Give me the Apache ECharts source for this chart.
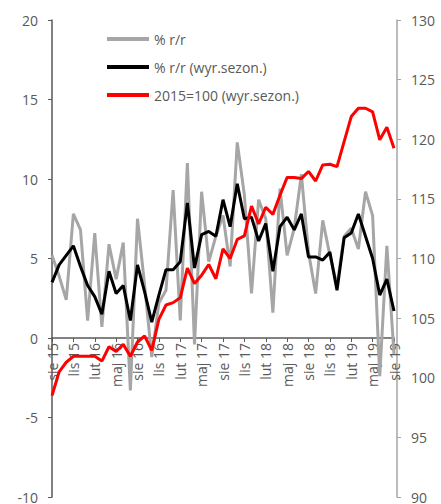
<!DOCTYPE html>
<html>
<head>
    <meta charset="utf-8">
    <title>ECharts</title>
    <script src="https://cdn.jsdelivr.net/npm/echarts@6/dist/echarts.min.js"></script>
    <style>
        html, body { margin: 0; padding: 0; background: #fff; }
    </style>
</head>
<body>
<div id="main" style="width: 441px;height:504px;"></div>
<script type="text/javascript">
    // miesiące od sie 15 do sie 19
    var months = [
        'sie 15','wrz 15','paź 15','lis 15','gru 15','sty 16','lut 16','mar 16','kwi 16','maj 16','cze 16','lip 16',
        'sie 16','wrz 16','paź 16','lis 16','gru 16','sty 17','lut 17','mar 17','kwi 17','maj 17','cze 17','lip 17',
        'sie 17','wrz 17','paź 17','lis 17','gru 17','sty 18','lut 18','mar 18','kwi 18','maj 18','cze 18','lip 18',
        'sie 18','wrz 18','paź 18','lis 18','gru 18','sty 19','lut 19','mar 19','kwi 19','maj 19','cze 19','lip 19',
        'sie 19'
    ];
    // % r/r
    var yoy = [5.2, 3.9, 2.4, 7.8, 6.8, 1.1, 6.6, 0.7, 5.9, 3.7, 6.0, -3.3, 7.5, 3.3, -1.2, 2.2, 3.0, 9.3, 1.1, 11.0,
        -0.4, 9.2, 4.8, 6.4, 7.7, 4.5, 12.3, 9.0, 2.8, 8.7, 7.5, 1.6, 9.4, 5.2, 6.9, 10.3, 5.4, 2.8, 7.4, 5.2,
        3.3, 6.4, 6.9, 5.6, 9.2, 7.7, -2.4, 5.8, -1.0];
    // % r/r (wyr.sezon.)
    var yoySa = [3.5, 4.6, 5.2, 5.8, 4.5, 3.3, 2.6, 1.5, 4.2, 2.8, 3.3, 1.1, 4.6, 2.9, 1.0, 2.7, 4.3, 4.3, 4.8, 8.5,
        4.4, 6.5, 6.7, 6.4, 8.7, 7.0, 9.7, 7.5, 7.6, 6.1, 7.2, 4.2, 7.0, 7.6, 6.8, 7.8, 5.1, 5.1, 4.9, 5.4,
        3.0, 6.3, 6.6, 7.8, 6.4, 5.0, 2.7, 3.7, 1.7];
    // 2015=100 (wyr.sezon.)
    var index2015 = [98.5, 100.5, 101.3, 101.8, 101.8, 101.8, 101.8, 101.4, 102.6, 102.2, 102.8, 101.8, 103.0, 103.5,
        102.3, 104.9, 106.1, 106.3, 106.7, 109.2, 107.9, 108.6, 109.5, 108.3, 110.8, 110.0, 111.6, 111.9,
        114.4, 112.9, 114.3, 113.7, 115.3, 116.8, 116.8, 116.7, 117.3, 116.5, 117.85, 117.9, 117.7, 119.8,
        121.9, 122.6, 122.6, 122.3, 119.95, 121.0, 119.25];

    var font = '"Open Sans", sans-serif';
    var txt = '#595959';

    // siatka: góra 20, dół 7 -> wysokość 477 px na 30 jednostek, zero lewej osi 20 jednostek od góry
    var gridTop = 20, gridBottom = 7, plotH = 504 - gridTop - gridBottom;
    var zeroShift = -(plotH * 10 / 30);

    var myChart = echarts.init(document.getElementById('main'), null, {renderer: 'svg'});
    var option = {
        animation: false,
        textStyle: { fontFamily: font },
        legend: {
            orient: 'vertical',
            left: 107,
            top: 32,
            padding: 0,
            icon: 'rect',
            itemWidth: 42,
            itemHeight: 4,
            itemGap: 14,
            textStyle: { fontFamily: font, fontSize: 14, color: txt },
            data: ['% r/r', '% r/r (wyr.sezon.)', '2015=100 (wyr.sezon.)']
        },
        grid: {
            left: 52,
            right: 47,
            top: gridTop,
            bottom: gridBottom,
            containLabel: false,
            outerBoundsMode: 'none'
        },
        xAxis: {
            type: 'category',
            boundaryGap: false,
            data: months,
            position: 'bottom',
            offset: zeroShift,
            axisLine: { onZero: false, lineStyle: { color: '#595959', width: 1.5 } },
            axisTick: { interval: 2, length: 4, lineStyle: { color: '#595959' } },
            axisLabel: {
                interval: 2,
                rotate: 90,
                margin: 5,
                fontFamily: font,
                fontSize: 14,
                color: txt
            },
            splitLine: { show: false }
        },
        yAxis: [{
            type: 'value',
            min: -10,
            max: 20,
            interval: 5,
            axisLine: { show: true, lineStyle: { color: '#595959', width: 1.5 } },
            axisTick: { show: true, length: 4, lineStyle: { color: '#595959' } },
            axisLabel: { margin: 14, fontFamily: font, fontSize: 14, color: txt },
            splitLine: { show: false }
        }, {
            type: 'value',
            min: 90,
            max: 130,
            interval: 5,
            offset: 3,
            axisLine: { show: true, lineStyle: { color: '#a6a6a6', width: 1.5 } },
            axisTick: { show: true, length: 4, lineStyle: { color: '#a6a6a6' } },
            axisLabel: { margin: 14, fontFamily: font, fontSize: 14, color: txt },
            splitLine: { show: false }
        }],
        series: [{
            name: '% r/r',
            type: 'line',
            yAxisIndex: 0,
            data: yoy,
            showSymbol: false,
            itemStyle: { color: '#a6a6a6' },
            lineStyle: { color: '#a6a6a6', width: 3 }
        }, {
            name: '% r/r (wyr.sezon.)',
            type: 'line',
            yAxisIndex: 0,
            data: yoySa,
            showSymbol: false,
            itemStyle: { color: '#000000' },
            lineStyle: { color: '#000000', width: 3 }
        }, {
            name: '2015=100 (wyr.sezon.)',
            type: 'line',
            yAxisIndex: 1,
            data: index2015,
            showSymbol: false,
            itemStyle: { color: '#ff0000' },
            lineStyle: { color: '#ff0000', width: 3 }
        }]
    };
    myChart.setOption(option);
</script>
</body>
</html>
